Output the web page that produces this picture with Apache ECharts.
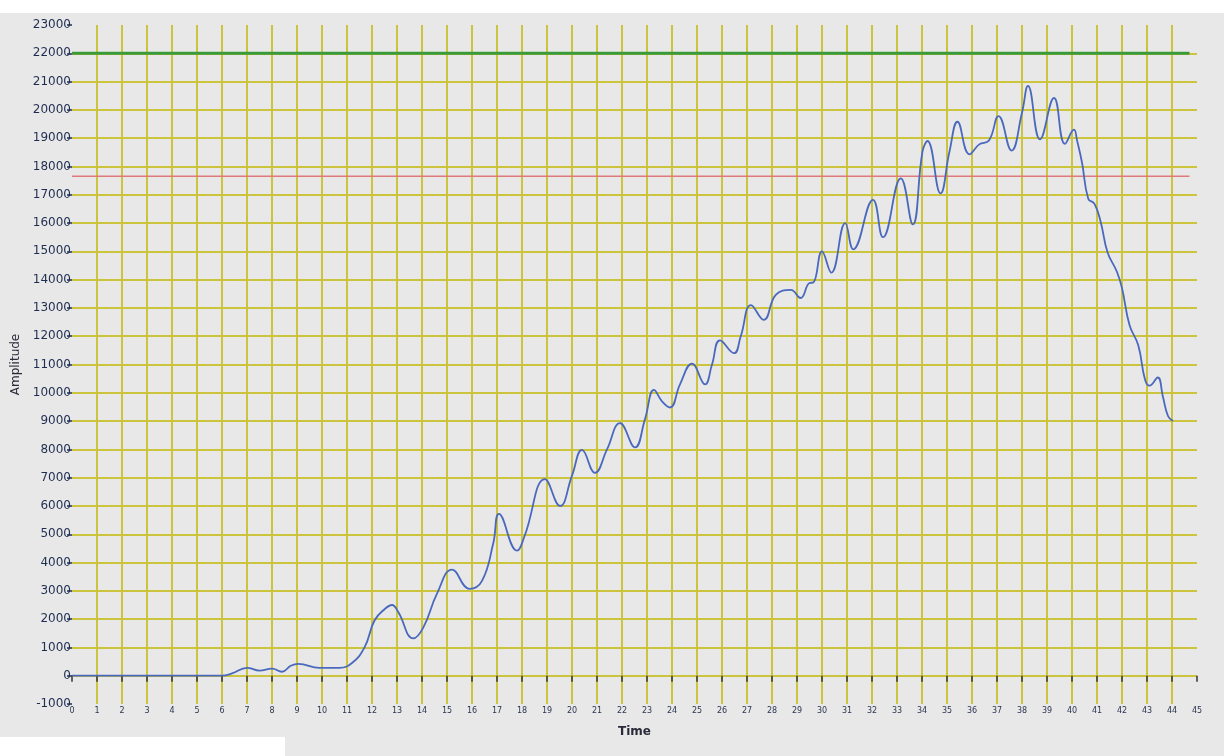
<!DOCTYPE html>
<html>
<head>
<meta charset="utf-8">
<script src="https://cdn.jsdelivr.net/npm/echarts@6/dist/echarts.min.js"></script>
<style>
  html, body { margin: 0; padding: 0; background: #e8e8e8; }
  #chart { width: 1224px; height: 756px; }
</style>
</head>
<body>
<div id="chart"></div>
<script>
// ---- data ----
const timeValues = [0, 1, 2, 3, 4, 5, 6,
  6.4, 7.0, 7.5, 8.0, 8.4, 8.75, 9.05, 9.9, 10.7, 11.2, 11.7, 12.1, 12.5, 12.8, 13.05,
  13.65, 14.05, 14.6, 15.2, 15.9, 16.4, 16.85, 17.08, 17.8, 18.1, 18.92, 19.52, 20.0,
  20.4, 20.92, 21.4, 21.92, 22.52, 22.92, 23.28, 23.6, 23.92, 24.32, 24.8, 25.32, 25.6,
  25.92, 26.48, 26.75, 27.16, 27.67, 28.15, 28.75, 29.14, 29.5, 29.66, 30.0, 30.37,
  30.93, 31.25, 32.04, 32.44, 33.15, 33.63, 34.02, 34.22, 34.74, 35.1, 35.42, 35.9,
  36.29, 36.68, 37.06, 37.58, 38.0, 38.24, 38.72, 39.28, 39.72, 40.08, 40.2, 40.4,
  40.65, 40.9, 41.15, 41.42, 41.8, 42.0, 42.3, 42.65, 42.92, 43.1, 43.43, 43.63, 43.84, 44.04];
const amplitudeValues = [0, 0, 0, 0, 0, 0, 0,
  80, 280, 180, 250, 140, 350, 420, 280, 280, 450, 1000, 1950, 2350, 2500, 2250,
  1320, 1700, 2900, 3750, 3070, 3350, 4680, 5720, 4420, 4930, 6950, 6000, 7070,
  7980, 7170, 8000, 8930, 8070, 9070, 10100, 9700, 9480, 10300, 11030, 10300, 11000,
  11850, 11400, 12000, 13100, 12580, 13460, 13640, 13350, 13880, 13900, 15000, 14250,
  16000, 15070, 16820, 15500, 17580, 15950, 18530, 18900, 17050, 18530, 19580, 18430,
  18780, 18920, 19780, 18560, 19900, 20850, 18960, 20420, 18800, 19300, 18930, 18140,
  16860, 16680, 16030, 14970, 14270, 13700, 12400, 11680, 10470, 10250, 10540, 9890, 9180, 9000];
const upperLimit = 22000;
const lowerLimit = 17650;
const limitSpan = [0, 44.7];
const xMin = 0, xMax = 45, xStep = 1;
const yMin = -1000, yMax = 23000, yStep = 1000;

const chart = echarts.init(document.getElementById('chart'));
const gridColor = '#cbc43c';
const labelFont = 'DejaVu Sans';

chart.setOption({
  backgroundColor: '#e8e8e8',
  animation: false,
  graphic: [
    { type: 'rect', shape: { x: 0, y: 0, width: 1224, height: 13 }, style: { fill: '#ffffff' }, silent: true, z: -1 },
    { type: 'rect', shape: { x: 0, y: 737, width: 285, height: 19 }, style: { fill: '#ffffff' }, silent: true, z: -1 }
  ],
  grid: { left: 72, right: 27, top: 25, bottom: 52, containLabel: false },
  xAxis: {
    type: 'value', min: xMin, max: xMax, interval: xStep,
    name: 'Time', nameLocation: 'middle', nameGap: 22,
    nameTextStyle: { fontFamily: labelFont, fontSize: 12, fontWeight: 'bold', color: '#2a2a3a' },
    axisLine: { show: false },
    axisTick: { show: true, length: 6, lineStyle: { color: '#333', width: 1.5 } },
    axisLabel: { fontFamily: labelFont, fontSize: 8, color: '#2a3550', margin: 3, formatter: v => String(v) },
    splitLine: { show: true, showMinLine: false, showMaxLine: false, lineStyle: { color: gridColor, width: 2 } }
  },
  yAxis: {
    type: 'value', min: yMin, max: yMax, interval: yStep,
    name: 'Amplitude', nameLocation: 'middle', nameGap: 50, nameRotate: 90,
    nameTextStyle: { fontFamily: labelFont, fontSize: 12, color: '#2a2a3a' },
    axisLine: { show: false },
    axisTick: { show: true, length: 5, lineStyle: { color: '#223055', width: 1.5 } },
    axisLabel: { fontFamily: labelFont, fontSize: 12, color: '#1f2d50', margin: 1, formatter: v => String(v) },
    splitLine: { show: true, showMinLine: false, showMaxLine: false, lineStyle: { color: gridColor, width: 2 } }
  },
  series: [
    {
      name: 'Upper', type: 'line', showSymbol: false, silent: true,
      data: limitSpan.map(t => [t, upperLimit]),
      lineStyle: { color: '#3a9a3a', width: 3 }, z: 3
    },
    {
      name: 'Lower', type: 'line', showSymbol: false, silent: true,
      data: limitSpan.map(t => [t, lowerLimit]),
      lineStyle: { color: '#e07a7a', width: 1.5 }, z: 3
    },
    {
      name: 'Amplitude', type: 'line', showSymbol: false, smooth: 0.45,
      data: timeValues.map((t, i) => [t, amplitudeValues[i]]),
      lineStyle: { color: '#4a69bd', width: 1.8 }, z: 4
    }
  ]
});
</script>
</body>
</html>
